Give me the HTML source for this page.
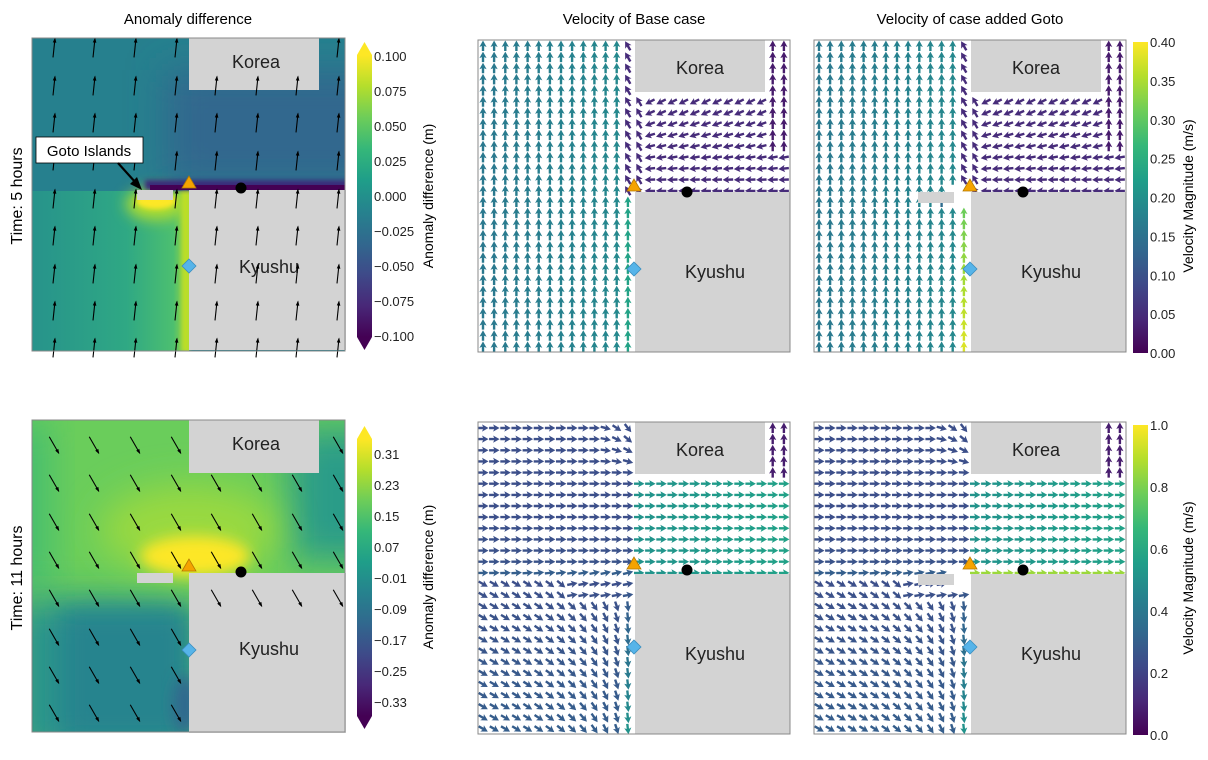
<!DOCTYPE html>
<html><head><meta charset="utf-8"><style>
html,body{margin:0;padding:0;background:#fff;width:1208px;height:760px;overflow:hidden}
svg text{font-family:"Liberation Sans",sans-serif}
</style></head><body>
<svg id="fig" width="1208" height="760" viewBox="0 0 1208 760" xmlns="http://www.w3.org/2000/svg">
<defs>
<linearGradient id="vir" x1="0" y1="1" x2="0" y2="0">
<stop offset="0" stop-color="#440154"/><stop offset="0.111" stop-color="#482878"/><stop offset="0.222" stop-color="#3e4a89"/><stop offset="0.333" stop-color="#31688e"/><stop offset="0.444" stop-color="#26828e"/><stop offset="0.556" stop-color="#1f9e89"/><stop offset="0.667" stop-color="#35b779"/><stop offset="0.778" stop-color="#6dcd59"/><stop offset="0.889" stop-color="#b4de2c"/><stop offset="1" stop-color="#fde725"/>
</linearGradient>
<filter id="b20" x="-50%" y="-50%" width="200%" height="200%"><feGaussianBlur stdDeviation="18"/></filter>
<filter id="b12" x="-50%" y="-50%" width="200%" height="200%"><feGaussianBlur stdDeviation="12"/></filter>
<filter id="b8" x="-50%" y="-50%" width="200%" height="200%"><feGaussianBlur stdDeviation="7"/></filter>
<filter id="b3" x="-50%" y="-50%" width="200%" height="200%"><feGaussianBlur stdDeviation="2.5"/></filter>
<clipPath id="c1"><rect x="32" y="38" width="313" height="313"/></clipPath>
<clipPath id="c2"><rect x="32" y="420" width="313" height="312"/></clipPath>
<linearGradient id="ll1" x1="0" x2="1" y1="0" y2="0"><stop offset="0" stop-color="#27938b"/><stop offset="0.6" stop-color="#2fa884"/><stop offset="0.9" stop-color="#4cbf70"/><stop offset="1" stop-color="#a8db34"/></linearGradient>
</defs>

<text x="188" y="24" font-size="15" text-anchor="middle">Anomaly difference</text>
<text x="634" y="24" font-size="15" text-anchor="middle">Velocity of Base case</text>
<text x="970" y="24" font-size="15" text-anchor="middle">Velocity of case added Goto</text>
<text transform="translate(22,196) rotate(-90)" font-size="16" text-anchor="middle">Time: 5 hours</text>
<text transform="translate(22,578) rotate(-90)" font-size="16" text-anchor="middle">Time: 11 hours</text>

<g clip-path="url(#c1)">
<rect x="32" y="38" width="313" height="313" fill="#26808e"/>
<rect x="165" y="70" width="230" height="116" fill="#30688e" filter="url(#b20)"/>
<rect x="32" y="191" width="157" height="161" fill="url(#ll1)"/>
<ellipse cx="156" cy="204" rx="30" ry="16" fill="#b0dd2f" filter="url(#b8)"/>
<ellipse cx="156" cy="201" rx="20" ry="8" fill="#fde725" filter="url(#b3)"/>
<rect x="182" y="190" width="7" height="162" fill="#c0df25" filter="url(#b3)"/>
<rect x="145" y="180" width="210" height="10" fill="#3b2a7a" filter="url(#b3)"/>
<rect x="150" y="185" width="200" height="5" fill="#440154"/>
</g>

<g clip-path="url(#c2)">
<rect x="32" y="420" width="314" height="312" fill="#6acd5b"/>
<rect x="0" y="420" width="50" height="170" fill="#45bd70" filter="url(#b20)"/>
<rect x="290" y="430" width="100" height="130" fill="#2a9c88" filter="url(#b20)"/>
<rect x="10" y="600" width="185" height="160" fill="#2a948b" filter="url(#b20)"/>
<rect x="60" y="610" width="129" height="130" fill="#26848e" filter="url(#b12)"/>
<ellipse cx="185" cy="705" rx="12" ry="30" fill="#31678e" filter="url(#b8)"/>
<ellipse cx="190" cy="530" rx="90" ry="45" fill="#9ad93f" filter="url(#b20)"/>
<ellipse cx="195" cy="556" rx="55" ry="20" fill="#fde725" filter="url(#b8)"/>
</g>

<g id="layer"></g>
</svg>
<script>
const anomTicks1=["0.100","0.075","0.050","0.025","0.000","\u22120.025","\u22120.050","\u22120.075","\u22120.100"];
const anomTicks2=["0.31","0.23","0.15","0.07","\u22120.01","\u22120.09","\u22120.17","\u22120.25","\u22120.33"];
const velTicks1=["0.40","0.35","0.30","0.25","0.20","0.15","0.10","0.05","0.00"];
const velTicks2=["1.0","0.8","0.6","0.4","0.2","0.0"];
const velMax=[0.4,1.0];
const anomArrowAngle=[-84,60];

const NS="http://www.w3.org/2000/svg";
const layer=document.getElementById('layer');
function mk(tag,attrs,parent){const e=document.createElementNS(NS,tag);for(const k in attrs)e.setAttribute(k,attrs[k]);(parent||layer).appendChild(e);return e;}
const VIR=[[68,1,84],[72,40,120],[62,74,137],[49,104,142],[38,130,142],[31,158,137],[53,183,121],[109,205,89],[180,222,44],[253,231,37]];
function vir(t){t=Math.max(0,Math.min(1,t));const f=t*9,i=Math.min(8,Math.floor(f)),r=f-i,a=VIR[i],b=VIR[i+1];return 'rgb('+[0,1,2].map(k=>Math.round(a[k]+(b[k]-a[k])*r)).join(',')+')';}

function land(x,y,w,h,name){const r=mk('rect',{x:x,y:y,width:w,height:h,fill:'#d3d3d3'});return r;}
function label(x,y,t,name){const e=mk('text',{x:x,y:y,'font-size':18,'text-anchor':'middle',fill:'#222'});e.textContent=t;}
function markers(tx,ty,cx,cy,dx,dy){
 const tr=mk('polygon',{points:`${tx},${ty-7} ${tx-7},${ty+5} ${tx+7},${ty+5}`,fill:'#f5a300',stroke:'#b57a00','stroke-width':0.8});
 
 const c=mk('circle',{cx:cx,cy:cy,r:5.5,fill:'#000'});
 
 const d=mk('polygon',{points:`${dx},${dy-7} ${dx+7},${dy} ${dx},${dy+7} ${dx-7},${dy}`,fill:'#56b4e9',stroke:'#3a8fc0','stroke-width':0.8});
 
}

function anomPanel(y0,row){
 land(189,y0,130,row?53:52,'korea-land');
 land(189,y0+(row?153:152),157,160,'kyushu-land');
 land(137,y0+(row?153:152),36,10,'goto-island');
 label(256,y0+30,'Korea','korea-label');
 label(269,y0+235,'Kyushu','kyushu-label');
 const ang=anomArrowAngle[row]*Math.PI/180,L=19;
 const cols=[54,94,135,176,216,257,297,338];
 const rows=row?[445,483,522,560,598,637,675,713]:[48,86,123,161,199,236,274,311,348];
 rows.forEach(ry=>cols.forEach(cx=>{
  if(cx>189&&cx<320&&ry<y0+(row?53:40))return;
  if(row&&cx>189&&ry>610)return;
  const dx=Math.cos(ang)*L/2,dy=Math.sin(ang)*L/2;
  const x1=cx-dx,y1=ry-dy,x2=cx+dx,y2=ry+dy;
  const l=mk('line',{x1:x1,y1:y1,x2:x2,y2:y2,stroke:'#000','stroke-width':1.1});
  
  const hx=Math.cos(ang),hy=Math.sin(ang),px=-hy,py=hx;
  mk('polygon',{points:`${x2+hx},${y2+hy} ${x2-hx*4+px*1.8},${y2-hy*4+py*1.8} ${x2-hx*4-px*1.8},${y2-hy*4-py*1.8}`,fill:'#000'});
 }));
 mk('rect',{x:32,y:y0,width:313,height:row?312:313,fill:'none',stroke:'#888','stroke-width':1});
}
anomPanel(38,0);anomPanel(420,1);
markers(189,183,241,188,189,266);
markers(189,566,241,572,189,650);
const gb=mk('rect',{x:36,y:137,width:107,height:26,fill:'#fff',stroke:'#000','stroke-width':0.8});

const gt=mk('text',{x:89,y:156,'font-size':15,'text-anchor':'middle'});gt.textContent='Goto Islands';

mk('line',{x1:118,y1:163,x2:136,y2:183,stroke:'#000','stroke-width':2.2});
mk('polygon',{points:'142,190 130,184 137,177',fill:'#000'});

function colorbar(x,top,bot,t0,t1,ticks,tri,lab,ly,lx){
 const g=mk('g',{});
 const w=15;
 if(tri){
  mk('polygon',{points:`${x},${top} ${x+w/2},${top-13} ${x+w},${top}`,fill:'#fde725'},g);
  mk('polygon',{points:`${x},${bot} ${x+w/2},${bot+13} ${x+w},${bot}`,fill:'#440154'},g);
 }
 mk('rect',{x:x,y:top,width:w,height:bot-top,fill:'url(#vir)'},g);
 const n=ticks.length;
 ticks.forEach((t,i)=>{
  const y=t0+(t1-t0)*i/(n-1);
  const tx=mk('text',{x:x+w+2,y:y+5,'font-size':13,fill:'#222'},g);tx.textContent=t;
  
 });
 const l=mk('text',{transform:`translate(${lx},${ly}) rotate(-90)`,'font-size':14,'text-anchor':'middle'},g);l.textContent=lab;
 
}
colorbar(357,55,337,56,336,anomTicks1,true,'Anomaly difference (m)',196,433);
colorbar(357,439,716,454,702,anomTicks2,true,'Anomaly difference (m)',577,433);
colorbar(1133,42,353,42,353,velTicks1,false,'Velocity Magnitude (m/s)',196,1193);
colorbar(1133,425,735,425,735,velTicks2,false,'Velocity Magnitude (m/s)',578,1193);

function field(row,goto,u,w){
 const coast=0.5,top=0.487;
 if(u>coast&&w>top)return null;
 if(u>coast&&u<0.925&&w<0.165)return null;
 if(goto&&u>0.44&&u<0.485&&w>0.47&&w<0.525)return null;
 if(row===0){
  if(u<0.47||w>top){
   let m=0.16+0.06*u;
   if(u>0.46&&w>top)m=goto?0.3+0.08*(w-top)/0.5:0.23;
   if(goto&&w>0.5&&w<0.55&&u>0.4&&u<0.47)m=0.14;
   return [-90,m];
  }
  if(u>0.925&&w<0.35)return [-90,0.03];
  const f=Math.max(0,Math.min(1,(w-0.17)/0.3));
  let a=150+30*f;
  if(u<0.52)a=-120;
  return [a,0.05];
 } else {
  if(u<coast){
   if(w<0.45){let a=0;if(u>0.38&&w<0.17)a=70*((u-0.38)/0.12)*((0.17-w)/0.17);return [a,0.24+0.1*Math.max(0,w-0.3)];}
   if(w<top)return [-15*(u/0.5),0.3];
   let a=30+60*Math.pow(u/0.5,3);
   if(w<0.58&&u>0.3)a=-10;
   let m=0.24+0.35*Math.max(0,(u-0.4)/0.1)*(w-0.5)/0.5;
   if(u<0.45)m=0.24+0.12*(w-0.5);
   return [a,m];
  }
  if(u>0.925&&w<0.17)return [-90,0.08];
  let m=0.45+0.12*u;
  if(goto&&w>0.45)m=0.85;
  return [0,m];
 }
}
function velPanel(x0,y0,row,goto){
 const S=312,n=28,st=S/n;
 for(let i=0;i<n;i++)for(let j=0;j<n;j++){
  const cx=x0+5+i*st,cy=y0+6+j*st;
  const u=(cx-x0)/S,w=(cy-y0)/S;
  const f=field(row,goto,u,w);if(!f)continue;
  const a=f[0]*Math.PI/180,col=vir(f[1]/velMax[row]);
  const c=Math.cos(a),s=Math.sin(a);
  const pts=[[-5,-1.2],[0,-1.2],[-1,-3.6],[5.5,0],[-1,3.6],[0,1.2],[-5,1.2]].map(p=>(cx+p[0]*c-p[1]*s).toFixed(1)+','+(cy+p[0]*s+p[1]*c).toFixed(1)).join(' ');
  const p=mk('polygon',{points:pts,fill:col});
  
 }
}
function velFrame(x0,y0,goto){
 land(x0+157,y0,130,52,'korea-land');
 land(x0+157,y0+152,155,160,'kyushu-land');
 if(goto)land(x0+104,y0+152,36,11,'goto-island');
 label(x0+222,y0+34,'Korea','korea-label');
 label(x0+237,y0+238,'Kyushu','kyushu-label');
 const r=mk('rect',{x:x0,y:y0,width:312,height:312,fill:'none',stroke:'#888','stroke-width':1});
 
}
[[478,40,0,false],[814,40,0,true],[478,422,1,false],[814,422,1,true]].forEach(p=>{
 velPanel(p[0],p[1],p[2],p[3]);velFrame(p[0],p[1],p[3]);
 const dy=p[2]?382:0,dx=p[0]-478;
 markers(634+dx,186+dy-(p[2]?4:0),687+dx,192+dy-(p[2]?4:0),634+dx,269+dy-(p[2]?4:0));
});
</script>
</body></html>
